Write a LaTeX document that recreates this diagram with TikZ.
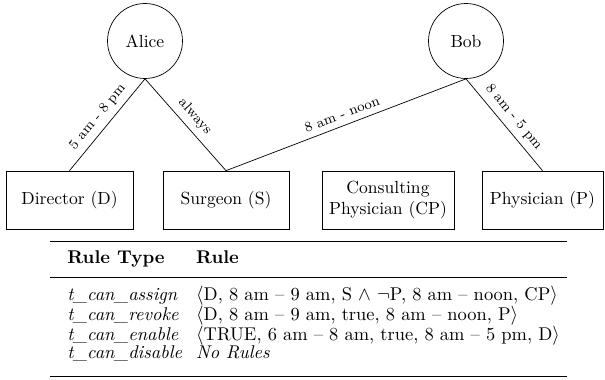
\documentclass[tikz,border=0pt]{standalone}
\usepackage{booktabs}

\begin{document}
\begin{tikzpicture}[
            x=0.02cm, y=-0.02cm,
            user/.style = {shape=circle, draw, minimum size=1.5cm},
            role/.style = {shape=rectangle, draw, align=center, minimum height=1.16cm},
            lbl/.style = {font=\footnotesize, sloped, above, midway}
        ]
        \useasboundingbox (0,0) rectangle (605,379);

        \node[user] (alice) at (145,41) {Alice};
        \node[user] (bob) at (466,41) {Bob};

        \node[role, minimum width=2.54cm] (director) at (69.5,200) {Director (D)};
        \node[role, minimum width=2.52cm] (surgeon) at (226,200) {Surgeon (S)};
        \node[role, minimum width=2.64cm] (consult) at (388,200) {Consulting\\Physician (CP)};
        \node[role, minimum width=2.42cm] (physician) at (542.5,200) {Physician (P)};

        \draw (director.north) -- node[lbl] {5 am - 8 pm} (alice.south);
        \draw (alice.south) -- node[lbl] {always} (surgeon.north);
        \draw (surgeon.north) -- node[lbl] {8 am - noon} (bob.south);
        \draw (bob.south) -- node[lbl] {8 am - 5 pm} (physician.north);

        \node[anchor=north west, inner sep=0pt] (rules) at (50,240.5) {%
            \fontsize{10.5}{10.5}\selectfont
            \setlength{\aboverulesep}{5pt}\setlength{\belowrulesep}{4.5pt}%
            \begin{tabular}{@{\hspace{9.7pt}}l@{\hspace{8pt}}l@{\hspace{4pt}}}
                \toprule
                \textbf{Rule Type} & \textbf{Rule} \\
                \midrule
                \textit{t\_can\_assign} & $\langle$D, 8 am -- 9 am, S $\wedge$ $\neg$P, 8 am -- noon, CP$\rangle$ \\
                \textit{t\_can\_revoke} & $\langle$D, 8 am -- 9 am, true, 8 am -- noon, P$\rangle$ \\
                \textit{t\_can\_enable} & $\langle$TRUE, 6 am -- 8 am, true, 8 am -- 5 pm, D$\rangle$ \\
                \textit{t\_can\_disable} & \textit{No Rules} \\[1.5pt]
                \bottomrule
            \end{tabular}};

    \end{tikzpicture}
\end{document}
